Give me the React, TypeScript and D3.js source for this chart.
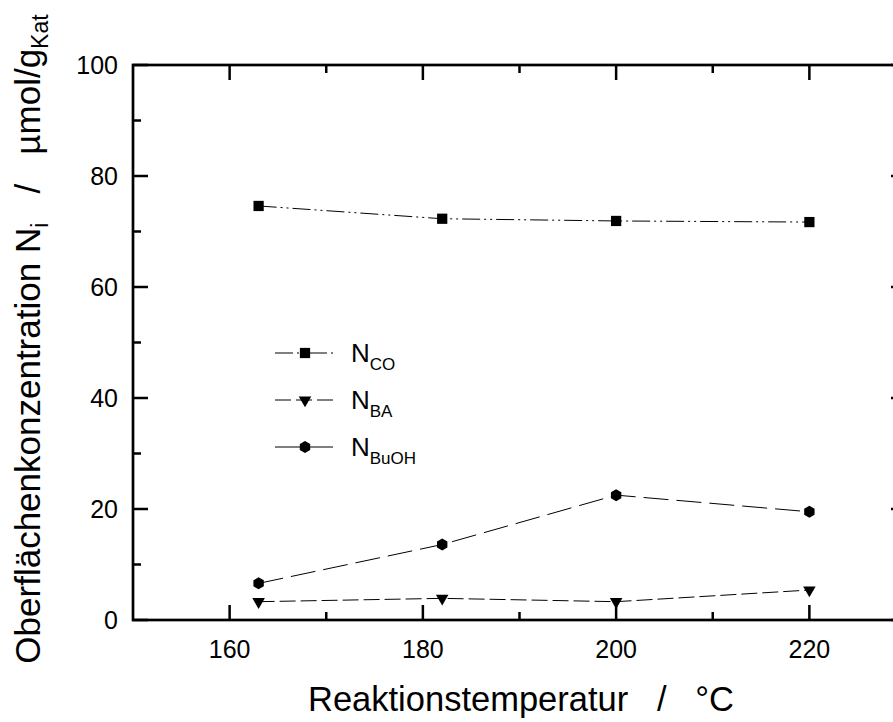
import React from "react";
import * as d3 from "d3";

const temps = [163, 182, 200, 220];
const nCO = [74.6, 72.3, 71.9, 71.7];
const nBA = [3.3, 3.9, 3.3, 5.4];
const nBuOH = [6.6, 13.6, 22.5, 19.5];
const xTicks = [160, 180, 200, 220];
const yTicks = [0, 20, 40, 60, 80, 100];
const seriesNames = ["CO", "BA", "BuOH"];

const W = 893;
const H = 722;
const FONT = "'Liberation Sans', Arial, Helvetica, sans-serif";

function hexPath(cx: number, cy: number, r: number) {
  const pts: [number, number][] = d3.range(6).map((i) => {
    const a = Math.PI / 2 + (i * Math.PI) / 3;
    return [cx + r * Math.cos(a), cy + r * Math.sin(a)];
  });
  return (d3.line()(pts) || "") + "Z";
}

export default function App() {
  const x = d3.scaleLinear().domain([150, 230]).range([133, 906]);
  const y = d3.scaleLinear().domain([0, 100]).range([620, 65]);

  const series = [
    { name: seriesNames[0], values: nCO, dash: "18,4,2,4,2,4", marker: "square" },
    { name: seriesNames[1], values: nBA, dash: "16,5", marker: "triangle" },
    { name: seriesNames[2], values: nBuOH, dash: "25,8", marker: "hex" },
  ];

  const line = d3
    .line<[number, number]>()
    .x((d) => x(d[0]))
    .y((d) => y(d[1]));

  const sq = d3.symbol().type(d3.symbolSquare).size(105)();
  const tri = d3.symbol().type(d3.symbolTriangle).size(68)();

  const drawMarker = (kind: string, cx: number, cy: number, key: string) => {
    if (kind === "square")
      return <path key={key} d={sq || ""} transform={`translate(${cx},${cy})`} fill="#000" />;
    if (kind === "triangle")
      return (
        <path key={key} d={tri || ""} transform={`translate(${cx},${cy}) rotate(180)`} fill="#000" />
      );
    return <path key={key} d={hexPath(cx, cy, 6)} fill="#000" />;
  };

  const xMinor = d3.range(150, 231, 10).filter((v) => !xTicks.includes(v) && v > 150 && v < 230);
  const yMinor = d3.range(10, 100, 20);

  const x0 = x.range()[0];
  const x1 = x.range()[1];
  const y0 = y.range()[0];
  const y1 = y.range()[1];
  const maj = 15;
  const min = 8;

  const legendY = [353, 400, 447];

  return (
    <svg
      width={W}
      height={H}
      style={{ position: "absolute", left: 0, top: 0, background: "#fff" }}
      fontFamily={FONT}
    >
      <rect x={0} y={0} width={W} height={H} fill="#fff" />
      {/* frame */}
      <rect x={x0} y={y1} width={x1 - x0} height={y0 - y1} fill="none" stroke="#000" strokeWidth={2.7} />
      {/* x ticks */}
      {xTicks.map((t) => (
        <g key={"xt" + t}>
          <line x1={x(t)} x2={x(t)} y1={y0} y2={y0 - maj} stroke="#000" strokeWidth={2.5} />
          <line x1={x(t)} x2={x(t)} y1={y1} y2={y1 + maj} stroke="#000" strokeWidth={2.5} />
          <text x={x(t)} y={658} textAnchor="middle" fontSize={25}>
            {t}
          </text>
        </g>
      ))}
      {xMinor.map((t) => (
        <g key={"xm" + t}>
          <line x1={x(t)} x2={x(t)} y1={y0} y2={y0 - min} stroke="#000" strokeWidth={2.5} />
          <line x1={x(t)} x2={x(t)} y1={y1} y2={y1 + min} stroke="#000" strokeWidth={2.5} />
        </g>
      ))}
      {yTicks.map((t) => (
        <g key={"yt" + t}>
          <line x1={x0} x2={x0 + maj} y1={y(t)} y2={y(t)} stroke="#000" strokeWidth={2.5} />
          <line x1={x1} x2={x1 - maj} y1={y(t)} y2={y(t)} stroke="#000" strokeWidth={2.5} />
          <text x={118} y={y(t) + 9} textAnchor="end" fontSize={25}>
            {t}
          </text>
        </g>
      ))}
      {yMinor.map((t) => (
        <g key={"ym" + t}>
          <line x1={x0} x2={x0 + min} y1={y(t)} y2={y(t)} stroke="#000" strokeWidth={2.5} />
          <line x1={x1} x2={x1 - min} y1={y(t)} y2={y(t)} stroke="#000" strokeWidth={2.5} />
        </g>
      ))}
      {/* series */}
      {series.map((s) => (
        <g key={s.name}>
          <path
            d={line(temps.map((t, i) => [t, s.values[i]] as [number, number])) || ""}
            fill="none"
            stroke="#000"
            strokeWidth={1}
            strokeDasharray={s.dash}
          />
          {temps.map((t, i) => drawMarker(s.marker, x(t), y(s.values[i]), s.name + i))}
        </g>
      ))}
      {/* legend */}
      {series.map((s, i) => (
        <g key={"lg" + s.name}>
          <line
            x1={275}
            x2={336}
            y1={legendY[i]}
            y2={legendY[i]}
            stroke="#000"
            strokeWidth={1}
            strokeDasharray={s.dash}
          />
          {drawMarker(s.marker, 305, legendY[i], "lm" + i)}
          <text x={351} y={legendY[i] + 9} fontSize={26}>
            N
            <tspan fontSize={17} dy={8}>
              {s.name}
            </tspan>
          </text>
        </g>
      ))}
      {/* axis titles */}
      <text x={521} y={711} textAnchor="middle" fontSize={34.5} style={{ whiteSpace: "pre" }}>
        {"Reaktionstemperatur   /   °C"}
      </text>
      <text
        transform="translate(40,339) rotate(-90)"
        textAnchor="middle"
        fontSize={35}
        style={{ whiteSpace: "pre" }}
      >
        {"Oberflächenkonzentration N"}
        <tspan fontSize={23} dy={8}>
          i
        </tspan>
        <tspan dy={-8}>{"   /   µmol/g"}</tspan>
        <tspan fontSize={23} dy={8}>
          Kat
        </tspan>
      </text>
    </svg>
  );
}
